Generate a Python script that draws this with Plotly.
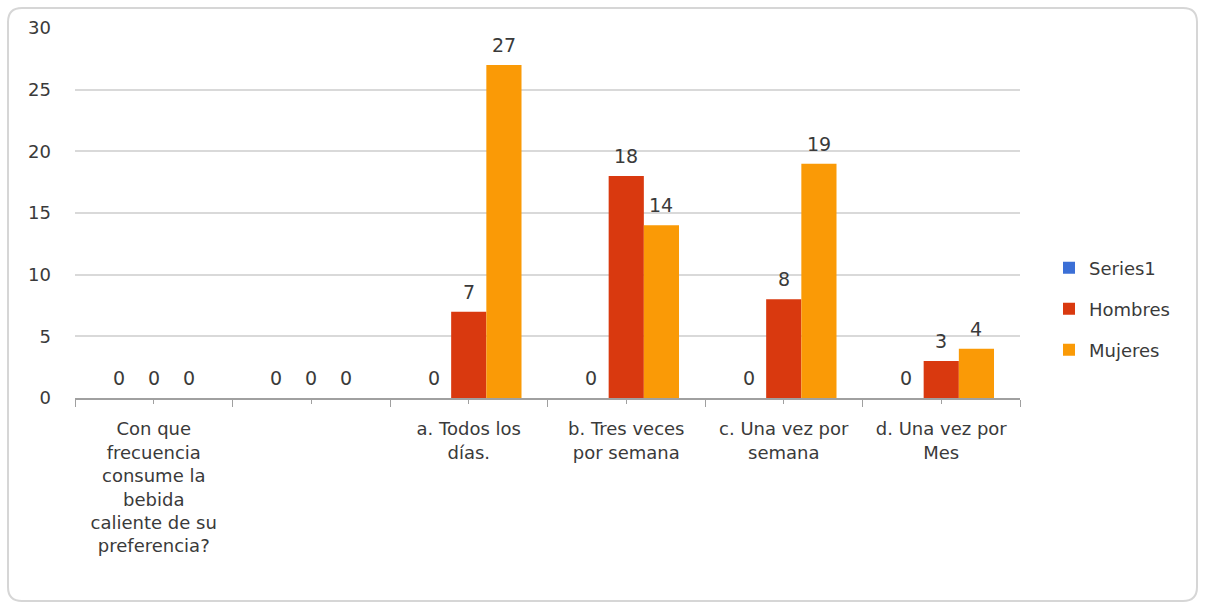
import plotly.graph_objects as go

# Survey categories (x axis) and counts per series
categories = [
    "Con que<br>frecuencia<br>consume la<br>bebida<br>caliente de su<br>preferencia?",
    " ",
    "a. Todos los<br>días.",
    "b. Tres veces<br>por semana",
    "c. Una vez por<br>semana",
    "d. Una vez por<br>Mes",
]
series1 = [0, 0, 0, 0, 0, 0]
hombres = [0, 0, 7, 18, 8, 3]
mujeres = [0, 0, 27, 14, 19, 4]
y_ticks = [0, 5, 10, 15, 20, 25, 30]

W, H = 1205, 610
ML, MR, MT, MB = 75, 185, 28, 212
FONT = "DejaVu Sans"
TXT = "#3a3a3a"
BARGAP = 0.33

fig = go.Figure()
specs = [
    ("Series1", series1, "#3b6fd6", "legend"),
    ("Hombres", hombres, "#d9390f", "legend2"),
    ("Mujeres", mujeres, "#fa9a06", "legend3"),
]
n_series = len(specs)
bar_w = (1 - BARGAP) / n_series
annotations = []
for k, (name, vals, color, leg) in enumerate(specs):
    fig.add_trace(go.Bar(
        name=name, x=categories, y=vals, marker_color=color,
        marker_line_width=0, legend=leg,
    ))
    # value labels above each bar, placed at the bar's slot in its group
    offset = (k - (n_series - 1) / 2) * bar_w
    for i, v in enumerate(vals):
        annotations.append(dict(
            x=i + offset, y=v, xref="x", yref="y", text=str(v),
            showarrow=False, yanchor="bottom", yshift=7,
            font=dict(family=FONT, size=19, color=TXT),
        ))

# invisible trace carrying the centre tick marks on the overlay axis
fig.add_trace(go.Scatter(x=categories, y=series1, xaxis="x2", mode="markers",
                         marker=dict(opacity=0), showlegend=False,
                         hoverinfo="skip"))

# rounded outer frame, expressed in paper coordinates of the plot area
pw, ph = W - ML - MR, H - MT - MB
def px(x):
    return (x - ML) / pw
def py(y):
    return 1 - (y - MT) / ph
x0, x1, y0, y1, r = 8, 1197, 8, 601, 14
path = (f"M {px(x0 + r)},{py(y0)} L {px(x1 - r)},{py(y0)} "
        f"Q {px(x1)},{py(y0)} {px(x1)},{py(y0 + r)} "
        f"L {px(x1)},{py(y1 - r)} Q {px(x1)},{py(y1)} {px(x1 - r)},{py(y1)} "
        f"L {px(x0 + r)},{py(y1)} Q {px(x0)},{py(y1)} {px(x0)},{py(y1 - r)} "
        f"L {px(x0)},{py(y0 + r)} Q {px(x0)},{py(y0)} {px(x0 + r)},{py(y0)} Z")
fig.add_shape(type="path", path=path, xref="paper", yref="paper",
              line=dict(color="#d6d6d6", width=2), layer="below")

legend_common = dict(
    xref="paper", yref="paper", x=px(1049), xanchor="left", yanchor="middle",
    font=dict(family=FONT, size=18, color=TXT), bgcolor="rgba(0,0,0,0)",
    itemwidth=30,
)
fig.update_layout(
    width=W, height=H,
    margin=dict(l=ML, r=MR, t=MT, b=MB),
    paper_bgcolor="white", plot_bgcolor="white",
    barmode="group", bargap=BARGAP, bargroupgap=0,
    font=dict(family=FONT, size=18, color=TXT),
    annotations=annotations,
    legend=dict(**legend_common, y=py(268)),
    legend2=dict(**legend_common, y=py(309)),
    legend3=dict(**legend_common, y=py(350)),
    xaxis=dict(
        type="category", categoryorder="array", categoryarray=categories,
        range=[-0.5, 5.5], tickson="boundaries", ticks="outside", ticklen=7,
        tickcolor="#a0a0a0", showline=True, linecolor="#a0a0a0", linewidth=1.5,
        showgrid=False, tickfont=dict(family=FONT, size=18, color=TXT),
        ticklabelstandoff=14,
    ),
    xaxis2=dict(
        type="category", categoryorder="array", categoryarray=categories,
        range=[-0.5, 5.5], overlaying="x", anchor="y", side="bottom",
        ticks="outside", ticklen=5, tickcolor="#a0a0a0",
        showticklabels=False, showgrid=False, showline=False,
    ),
    yaxis=dict(
        range=[0, 30], tickvals=y_ticks, showgrid=True, gridcolor="#d9d9d9",
        gridwidth=1.5, zeroline=False, showline=False,
        tickfont=dict(family=FONT, size=18, color=TXT), ticklabelstandoff=23,
    ),
)

fig.write_html("out.html")
